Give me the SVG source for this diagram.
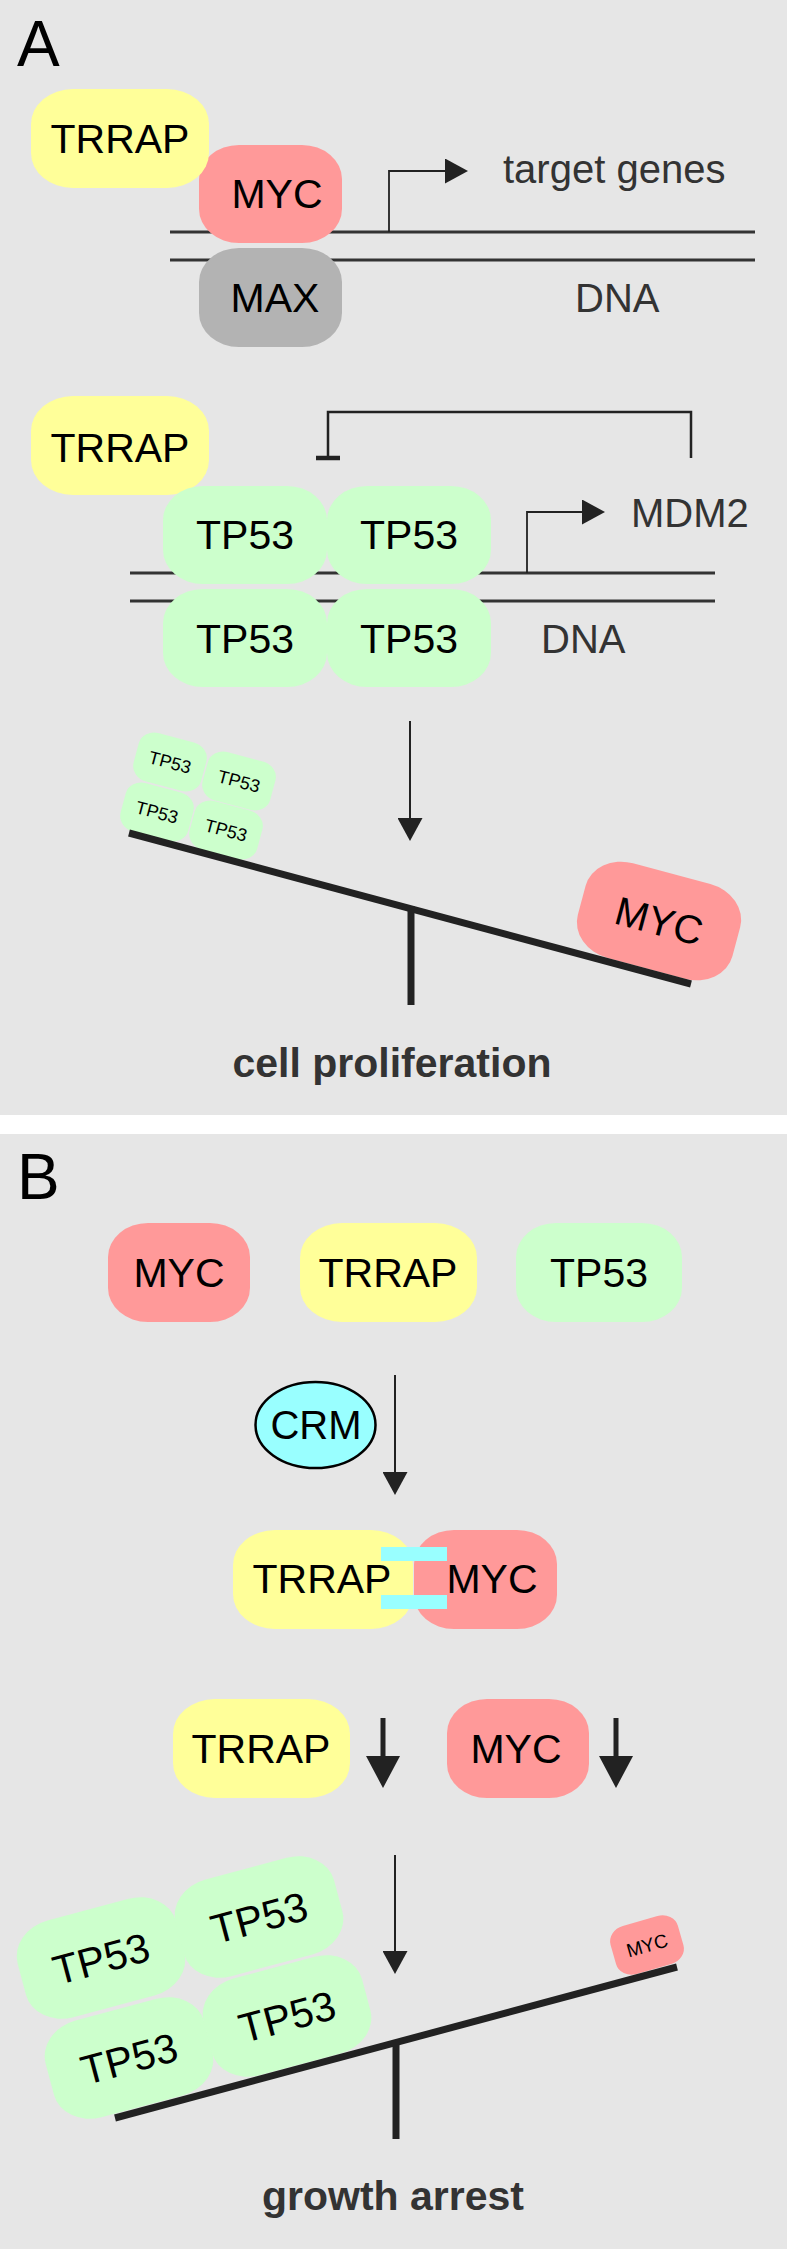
<svg xmlns="http://www.w3.org/2000/svg" width="787" height="2249" viewBox="0 0 787 2249">
<defs>
<style>
.bg{fill:#E6E6E6}
.lbl{font-family:"Liberation Sans",Arial,Helvetica,sans-serif;font-size:41px;fill:#000;text-anchor:middle}
.txt{font-family:"Liberation Sans",Arial,Helvetica,sans-serif;font-size:40px;fill:#333}
.panel{font-family:"Liberation Sans",Arial,Helvetica,sans-serif;font-size:64px;fill:#000}
.bold{font-family:"Liberation Sans",Arial,Helvetica,sans-serif;font-weight:bold;font-size:41px;fill:#333;text-anchor:middle}
.yellow{fill:#FFFF99}.pink{fill:#FF9999}.green{fill:#CCFFCC}.gray{fill:#B3B3B3}.cyan{fill:#99FFFF}
.dna{stroke:#333;stroke-width:3;fill:none}
.thin{stroke:#222;stroke-width:2;fill:none}
.prom{stroke:#222;stroke-width:1.8;fill:none}
.brk{stroke:#222;stroke-width:2.5;fill:none}
.thick{stroke:#222;stroke-width:5;fill:none}
.beam{stroke:#222;stroke-width:7;fill:none}
</style>
<marker id="ah" viewBox="0 0 23 25" refX="0" refY="12.5" markerWidth="23" markerHeight="25" markerUnits="userSpaceOnUse" orient="auto">
<path d="M0,0 L23,12.5 L0,25 Z" fill="#222"/>
</marker>
<marker id="ahb" viewBox="0 0 32 34" refX="0" refY="17" markerWidth="32" markerHeight="34" markerUnits="userSpaceOnUse" orient="auto">
<path d="M0,0 L32,17 L0,34 Z" fill="#222"/>
</marker>
</defs>

<rect x="0" y="0" width="787" height="2249" fill="#FFFFFF"/>
<rect class="bg" x="0" y="0" width="787" height="1115"/>
<rect class="bg" x="0" y="1134" width="787" height="1115"/>

<text class="panel" x="17" y="66">A</text>
<text class="panel" x="17" y="1199">B</text>

<g id="dna">
<line class="dna" x1="170" y1="232" x2="755" y2="232"/>
<line class="dna" x1="170" y1="260" x2="755" y2="260"/>
<line class="dna" x1="130" y1="573" x2="715" y2="573"/>
<line class="dna" x1="130" y1="601" x2="715" y2="601"/>
</g>

<g id="a-myc"><rect class="pink" x="199" y="145" width="143" height="98" rx="40" ry="34"/><text class="lbl" x="277" y="208">MYC</text></g>
<g id="a-trrap"><rect class="yellow" x="31" y="89" width="178" height="99" rx="42" ry="35"/><text class="lbl" x="120" y="153">TRRAP</text></g>
<g id="a-max"><rect class="gray" x="199" y="248" width="143" height="99" rx="40" ry="34"/><text class="lbl" x="275" y="312">MAX</text></g>
<text class="txt" x="503" y="183">target genes</text>
<text class="txt" x="575" y="312">DNA</text>

<g id="a2-trrap"><rect class="yellow" x="31" y="396" width="178" height="99" rx="42" ry="35"/><text class="lbl" x="120" y="462">TRRAP</text></g>
<g id="a2-tp53-tl"><rect class="green" x="163" y="486" width="164" height="98" rx="40" ry="34"/><text class="lbl" x="245" y="549">TP53</text></g>
<g id="a2-tp53-tr"><rect class="green" x="327" y="486" width="164" height="98" rx="40" ry="34"/><text class="lbl" x="409" y="549">TP53</text></g>
<g id="a2-tp53-bl"><rect class="green" x="163" y="589" width="164" height="98" rx="40" ry="34"/><text class="lbl" x="245" y="653">TP53</text></g>
<g id="a2-tp53-br"><rect class="green" x="327" y="589" width="164" height="98" rx="40" ry="34"/><text class="lbl" x="409" y="653">TP53</text></g>
<text class="txt" x="631" y="527">MDM2</text>
<text class="txt" x="541" y="653">DNA</text>

<g id="a3-tp53-1" transform="translate(170,762) rotate(15)"><rect class="green" x="-35" y="-25" width="70" height="50" rx="17" ry="15"/><text class="lbl" style="font-size:18px" y="6.5">TP53</text></g>
<g id="a3-tp53-2" transform="translate(239,781) rotate(15)"><rect class="green" x="-35" y="-25" width="70" height="50" rx="17" ry="15"/><text class="lbl" style="font-size:18px" y="6.5">TP53</text></g>
<g id="a3-tp53-3" transform="translate(157,812) rotate(15)"><rect class="green" x="-35" y="-25" width="70" height="50" rx="17" ry="15"/><text class="lbl" style="font-size:18px" y="6.5">TP53</text></g>
<g id="a3-tp53-4" transform="translate(226,830) rotate(15)"><rect class="green" x="-35" y="-25" width="70" height="50" rx="17" ry="15"/><text class="lbl" style="font-size:18px" y="6.5">TP53</text></g>
<g id="a3-myc" transform="translate(659,921) rotate(15)"><rect class="pink" x="-80" y="-49" width="160" height="98" rx="40" ry="34"/><text class="lbl" style="font-size:40px" y="14">MYC</text></g>
<text class="bold" x="392" y="1077">cell proliferation</text>

<g id="b-myc"><rect class="pink" x="108" y="1223" width="142" height="99" rx="40" ry="34"/><text class="lbl" x="179" y="1287">MYC</text></g>
<g id="b-trrap"><rect class="yellow" x="300" y="1223" width="177" height="99" rx="42" ry="35"/><text class="lbl" x="388" y="1287">TRRAP</text></g>
<g id="b-tp53"><rect class="green" x="516" y="1223" width="166" height="99" rx="40" ry="34"/><text class="lbl" x="599" y="1287">TP53</text></g>
<g id="b-crm"><ellipse cx="315.5" cy="1425" rx="60" ry="43" fill="#99FFFF" stroke="#000" stroke-width="2.5"/><text class="lbl" style="font-size:40px" x="316" y="1439">CRM</text></g>

<g id="b-complex">
<rect class="yellow" x="233" y="1530" width="180" height="99" rx="42" ry="35"/>
<rect class="pink" x="414" y="1530" width="143" height="99" rx="40" ry="34"/>
<rect class="cyan" x="381" y="1547" width="66" height="14"/>
<rect class="cyan" x="381" y="1595" width="66" height="14"/>
<text class="lbl" x="322" y="1593">TRRAP</text>
<text class="lbl" x="492" y="1593">MYC</text>
</g>

<g id="b-trrap-down"><rect class="yellow" x="173" y="1699" width="177" height="99" rx="42" ry="35"/><text class="lbl" x="261" y="1763">TRRAP</text></g>
<g id="b-myc-down"><rect class="pink" x="447" y="1699" width="142" height="99" rx="40" ry="34"/><text class="lbl" x="516" y="1763">MYC</text></g>

<g id="b-tp53-1" transform="translate(101,1958) rotate(-15)"><rect class="green" x="-82" y="-50" width="164" height="100" rx="40" ry="34"/><text class="lbl" y="15">TP53</text></g>
<g id="b-tp53-2" transform="translate(259,1917) rotate(-15)"><rect class="green" x="-82" y="-50" width="164" height="100" rx="40" ry="34"/><text class="lbl" y="15">TP53</text></g>
<g id="b-tp53-3" transform="translate(129,2058) rotate(-15)"><rect class="green" x="-82" y="-50" width="164" height="100" rx="40" ry="34"/><text class="lbl" y="15">TP53</text></g>
<g id="b-tp53-4" transform="translate(287,2016) rotate(-15)"><rect class="green" x="-82" y="-50" width="164" height="100" rx="40" ry="34"/><text class="lbl" y="15">TP53</text></g>
<g id="b-myc-small" transform="translate(647,1945) rotate(-16)"><rect class="pink" x="-35" y="-25" width="70" height="50" rx="17" ry="15"/><text class="lbl" style="font-size:19px" y="7">MYC</text></g>
<text class="bold" x="393" y="2210">growth arrest</text>

<g id="connectors">
<path class="prom" d="M389,232 V171 H445" marker-end="url(#ah)"/>
<path class="prom" d="M527,573 V512 H582" marker-end="url(#ah)"/>
<path class="brk" d="M328,458 V412 H691 V458"/>
<line x1="316" y1="458" x2="340" y2="458" stroke="#222" stroke-width="4.5"/>
<line class="thin" x1="410" y1="721" x2="410" y2="818" marker-end="url(#ah)"/>
<line class="beam" x1="129" y1="833" x2="691" y2="984"/>
<line class="beam" x1="411" y1="906" x2="411" y2="1005"/>
<line class="thin" x1="395" y1="1375" x2="395" y2="1472" marker-end="url(#ah)"/>
<line class="thick" x1="383" y1="1718" x2="383" y2="1756" marker-end="url(#ahb)"/>
<line class="thick" x1="616" y1="1718" x2="616" y2="1756" marker-end="url(#ahb)"/>
<line class="thin" x1="395" y1="1855" x2="395" y2="1951" marker-end="url(#ah)"/>
<line class="beam" x1="115" y1="2118" x2="677" y2="1967"/>
<line class="beam" x1="396" y1="2043" x2="396" y2="2139"/>
</g>
</svg>
